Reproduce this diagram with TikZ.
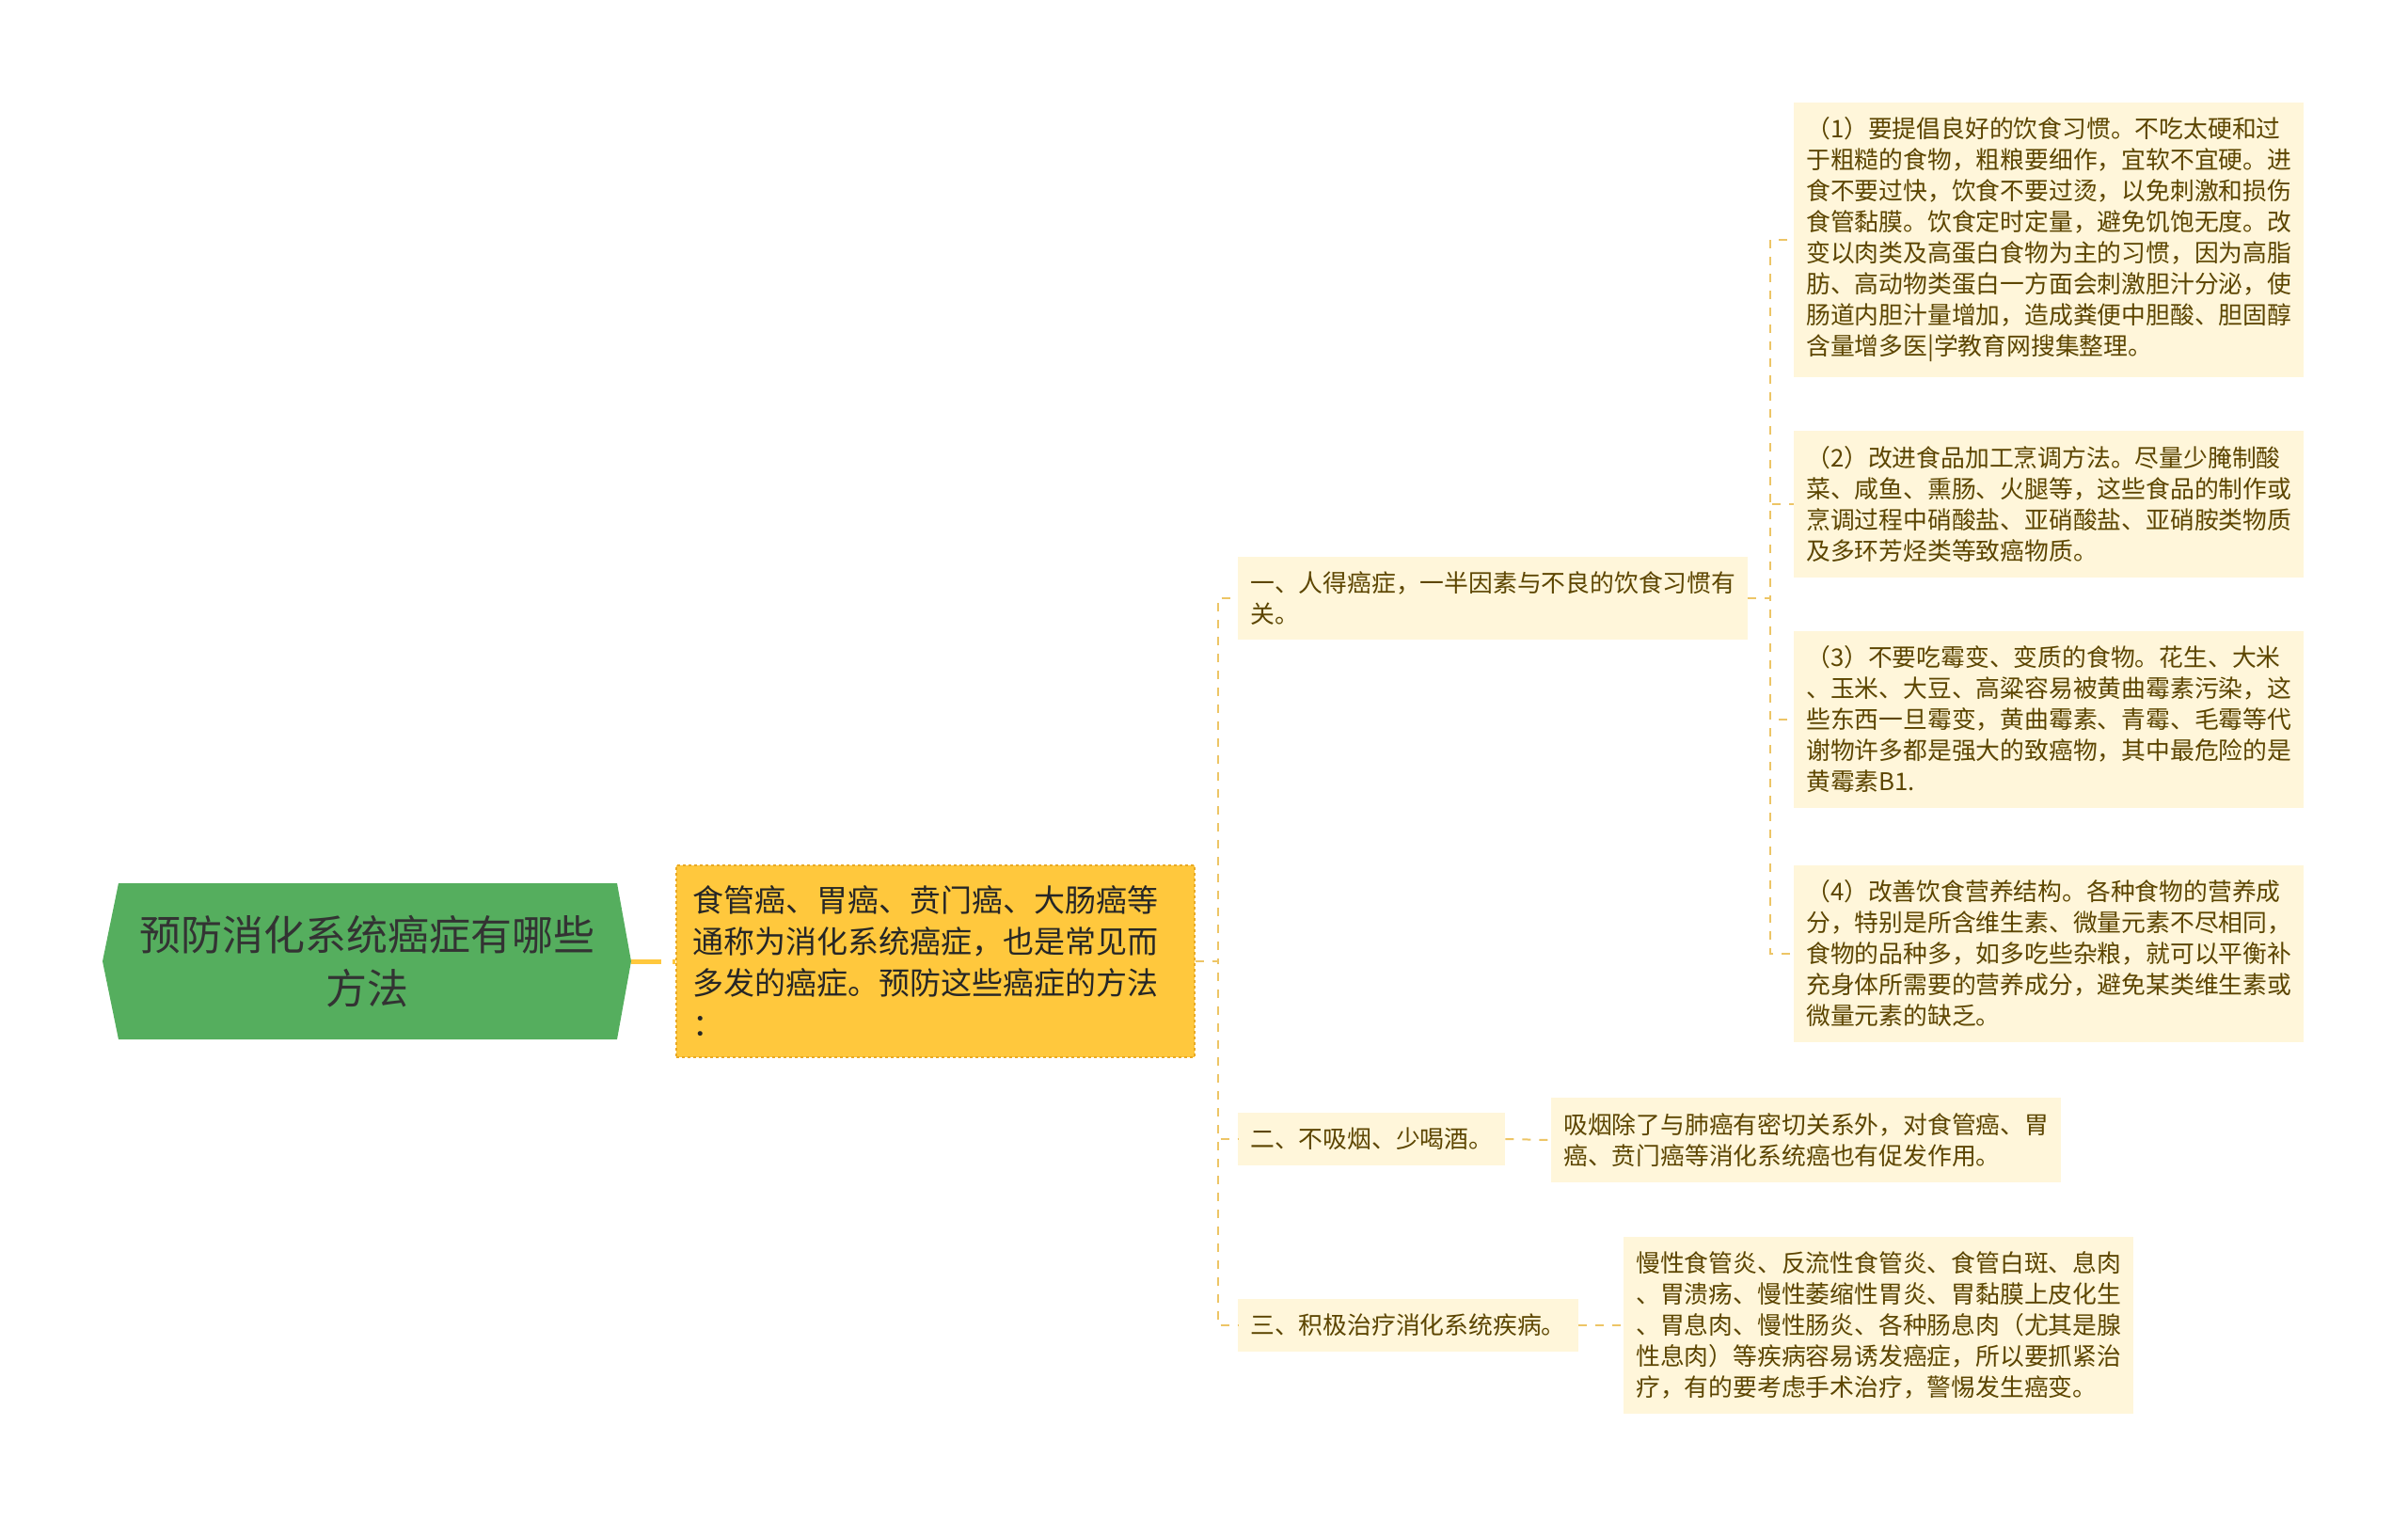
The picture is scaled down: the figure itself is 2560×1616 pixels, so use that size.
\documentclass[tikz,border=0pt]{standalone}
\usepackage{fontspec}
\setmainfont{Noto Sans CJK SC}
\usetikzlibrary{positioning}

\definecolor{rootgreen}{HTML}{55AE5E}
\definecolor{introyellow}{HTML}{FFC83D}
\definecolor{introborder}{HTML}{E9A923}
\definecolor{leafbg}{HTML}{FFF6DA}
\definecolor{leaftext}{HTML}{5C4500}
\definecolor{linkcolor}{HTML}{EDC566}

\begin{document}
\begin{tikzpicture}[x=1pt,y=-1pt,
		rootnode/.style={text=black!80,font=\fontsize{44}{57}\selectfont,align=center,text width=490,minimum width=562,minimum height=166,inner sep=0},
		intro/.style={fill=introyellow,draw=introborder,dashed,line width=1.5,text=black!85,font=\fontsize{33}{44}\selectfont,align=left,text width=515,inner xsep=18,inner ysep=22,anchor=west},
		leaf/.style={fill=leafbg,text=leaftext,font=\fontsize{25.8}{33}\selectfont,align=left,inner xsep=13,inner ysep=16,anchor=west},
		wide/.style={text width=516},
		link/.style={draw=linkcolor,dash pattern=on 9 off 9,line width=2},
		trunk/.style={draw=introyellow,line width=5,dash pattern=on 32 off 12}
	]
	\useasboundingbox (0,0) rectangle (2560,1616);

	% root
	\fill[rootgreen] (109,1022) -- (126,939) -- (656,939) -- (671,1022) -- (656,1105) -- (126,1105) -- cycle;
	\node[rootnode] (root) at (390,1022) {预防消化系统癌症有哪些\\方法};

	\node[intro] (intro) at (718,1022) {食管癌、胃癌、贲门癌、大肠癌等\\通称为消化系统癌症，也是常见而\\多发的癌症。预防这些癌症的方法\\：};

	% first level
	\node[leaf,wide] (diet) at (1316,636) {一、人得癌症，一半因素与不良的饮食习惯有\\关。};
	\node[leaf] (smoke) at (1316,1211) {二、不吸烟、少喝酒。};
	\node[leaf] (treat) at (1316,1409) {三、积极治疗消化系统疾病。};

	% details
	\node[leaf,wide] (habit) at (1907,255) {（1）要提倡良好的饮食习惯。不吃太硬和过\\于粗糙的食物，粗粮要细作，宜软不宜硬。进\\食不要过快，饮食不要过烫，以免刺激和损伤\\食管黏膜。饮食定时定量，避免饥饱无度。改\\变以肉类及高蛋白食物为主的习惯，因为高脂\\肪、高动物类蛋白一方面会刺激胆汁分泌，使\\肠道内胆汁量增加，造成粪便中胆酸、胆固醇\\含量增多医|学教育网搜集整理。};
	\node[leaf,wide] (cook) at (1907,536) {（2）改进食品加工烹调方法。尽量少腌制酸\\菜、咸鱼、熏肠、火腿等，这些食品的制作或\\烹调过程中硝酸盐、亚硝酸盐、亚硝胺类物质\\及多环芳烃类等致癌物质。};
	\node[leaf,wide] (mould) at (1907,765) {（3）不要吃霉变、变质的食物。花生、大米\\、玉米、大豆、高粱容易被黄曲霉素污染，这\\些东西一旦霉变，黄曲霉素、青霉、毛霉等代\\谢物许多都是强大的致癌物，其中最危险的是\\黄霉素B1.};
	\node[leaf,wide] (nutri) at (1907,1014) {（4）改善饮食营养结构。各种食物的营养成\\分，特别是所含维生素、微量元素不尽相同，\\食物的品种多，如多吃些杂粮，就可以平衡补\\充身体所需要的营养成分，避免某类维生素或\\微量元素的缺乏。};
	\node[leaf,wide] (smokenote) at (1649,1212) {吸烟除了与肺癌有密切关系外，对食管癌、胃\\癌、贲门癌等消化系统癌也有促发作用。};
	\node[leaf,wide] (treatnote) at (1726,1409) {慢性食管炎、反流性食管炎、食管白斑、息肉\\、胃溃疡、慢性萎缩性胃炎、胃黏膜上皮化生\\、胃息肉、慢性肠炎、各种肠息肉（尤其是腺\\性息肉）等疾病容易诱发癌症，所以要抓紧治\\疗，有的要考虑手术治疗，警惕发生癌变。};

	\draw[trunk] (root.east) -- (intro.west);
	\draw[link] (intro.east) -- ++(24,0) |- (diet.west);
	\draw[link] (intro.east) -- ++(24,0) |- (smoke.west);
	\draw[link] (intro.east) -- ++(24,0) |- (treat.west);
	\draw[link] (diet.east) -- ++(24,0) |- (habit.west);
	\draw[link] (diet.east) -- ++(24,0) |- (cook.west);
	\draw[link] (diet.east) -- ++(24,0) |- (mould.west);
	\draw[link] (diet.east) -- ++(24,0) |- (nutri.west);
	\draw[link] (smoke.east) -- (smokenote.west);
	\draw[link] (treat.east) -- (treatnote.west);

\end{tikzpicture}
\end{document}
